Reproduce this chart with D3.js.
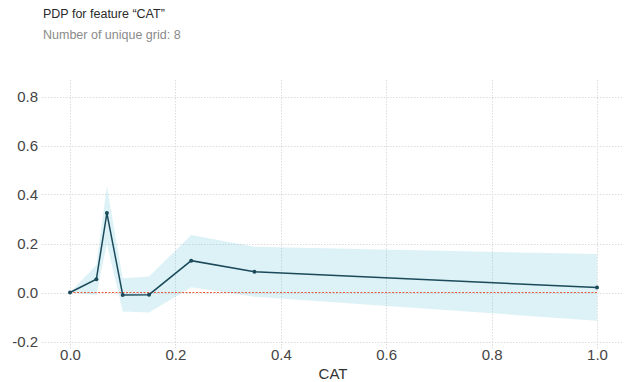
<!DOCTYPE html>
<html>
<head>
<meta charset="utf-8">
<script src="https://cdn.jsdelivr.net/npm/d3@7/dist/d3.min.js"></script>
<style>
  html, body { margin: 0; padding: 0; background: #fff; }
  svg { display: block; font-family: Arial, "Liberation Sans", sans-serif; }
</style>
</head>
<body>
<svg id="chart" width="624" height="382"></svg>
<script>
// Partial dependence of the prediction on feature "CAT"
const gridValues = [0.0, 0.05, 0.07, 0.1, 0.15, 0.23, 0.35, 1.0];
const pdpMean    = [0.0, 0.054, 0.324, -0.01, -0.009, 0.13, 0.085, 0.02];
const pdpUpper   = [0.0, 0.112, 0.435, 0.058, 0.065, 0.235, 0.187, 0.157];
const pdpLower   = [0.0, -0.01, 0.20, -0.078, -0.082, 0.021, -0.017, -0.115];
const xTicks = [0.0, 0.2, 0.4, 0.6, 0.8, 1.0];
const yTicks = [-0.2, 0.0, 0.2, 0.4, 0.6, 0.8];

const svg = d3.select("#chart");
const plot = { left: 42, right: 622, top: 80, bottom: 350 };
const fontFam = "Arial, 'Liberation Sans', sans-serif";
const fmt = d => d.toFixed(1);

const x = d3.scaleLinear().domain([0, 1]).range([70, 597]);
const y = d3.scaleLinear().domain([-0.2, 0.8]).range([341.5, 96.5]);

// titles
svg.append("text").attr("x", 43).attr("y", 18)
  .attr("font-size", 12.5).attr("fill", "#2a2a2a")
  .text("PDP for feature \u201cCAT\u201d");
svg.append("text").attr("x", 43).attr("y", 39)
  .attr("font-size", 12.5).attr("fill", "#8a8a8a")
  .text("Number of unique grid: 8");

// grid
const grid = svg.append("g").attr("stroke", "#dcdcdc").attr("stroke-width", 1)
  .attr("stroke-dasharray", "1.5,1.5");
grid.selectAll("line.h").data(yTicks).join("line").attr("class", "h")
  .attr("x1", plot.left).attr("x2", plot.right)
  .attr("y1", d => Math.round(y(d)) + 0.5).attr("y2", d => Math.round(y(d)) + 0.5);
grid.selectAll("line.v").data(xTicks).join("line").attr("class", "v")
  .attr("y1", plot.top).attr("y2", plot.bottom)
  .attr("x1", d => Math.round(x(d)) + 0.5).attr("x2", d => Math.round(x(d)) + 0.5);

// axes (labels only)
const yAxis = d3.axisLeft(y).tickValues(yTicks).tickFormat(fmt).tickSize(0).tickPadding(4);
const gy = svg.append("g").attr("transform", `translate(${plot.left},0)`).call(yAxis);
gy.select(".domain").remove();
gy.selectAll("text").attr("font-size", 15).attr("fill", "#444").attr("font-family", fontFam);

const xAxis = d3.axisBottom(x).tickValues(xTicks).tickFormat(fmt).tickSize(0).tickPadding(-1);
const gx = svg.append("g").attr("transform", `translate(0,${plot.bottom})`).call(xAxis);
gx.select(".domain").remove();
gx.selectAll("text").attr("font-size", 15).attr("fill", "#444").attr("font-family", fontFam);

svg.append("text").attr("x", 333).attr("y", 379).attr("text-anchor", "middle")
  .attr("font-size", 15).attr("fill", "#333").text("CAT");

// confidence band
const rows = gridValues.map((g, i) => ({ g, m: pdpMean[i], lo: pdpLower[i], hi: pdpUpper[i] }));
svg.append("path").datum(rows)
  .attr("fill", "#66c2d7").attr("fill-opacity", 0.22)
  .attr("d", d3.area().x(d => x(d.g)).y0(d => y(d.lo)).y1(d => y(d.hi)));

// zero reference
svg.append("line")
  .attr("x1", x(0)).attr("x2", x(1)).attr("y1", y(0)).attr("y2", y(0))
  .attr("stroke", "#ec5a3a").attr("stroke-width", 1).attr("stroke-dasharray", "2,1.5");

// mean line and markers
svg.append("path").datum(rows)
  .attr("fill", "none").attr("stroke", "#1b4a5a").attr("stroke-width", 1.5)
  .attr("d", d3.line().x(d => x(d.g)).y(d => y(d.m)));
svg.selectAll("circle.pt").data(rows).join("circle").attr("class", "pt")
  .attr("cx", d => x(d.g)).attr("cy", d => y(d.m)).attr("r", 2)
  .attr("fill", "#1b4a5a");
</script>
</body>
</html>
